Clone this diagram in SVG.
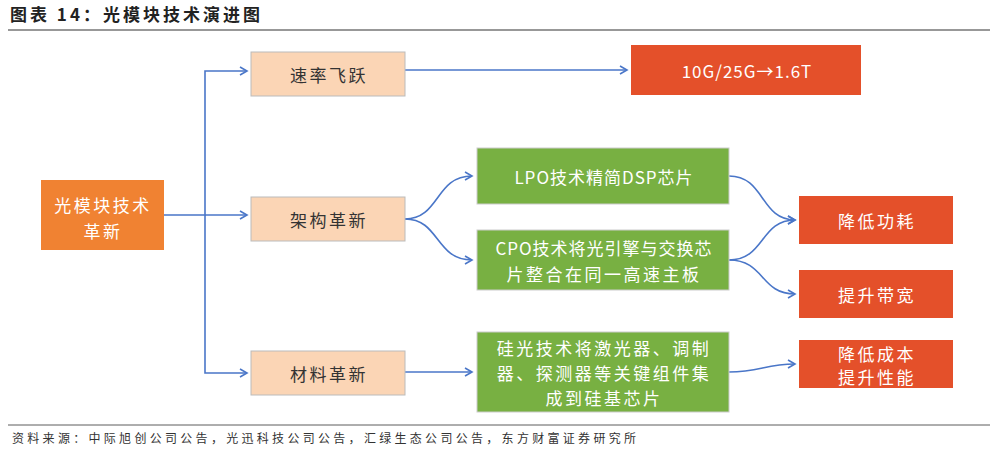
<svg xmlns="http://www.w3.org/2000/svg" width="997" height="454" viewBox="0 0 997 454">
<style>
text{font-family:"Noto Sans CJK SC","Liberation Sans",sans-serif}
.t{font-size:17px;text-anchor:middle;dominant-baseline:central;letter-spacing:2.5px}
.w{fill:#fff}
.d{fill:#333}
.peach{fill:#FBD5B5;stroke:#bbb;stroke-width:1}
.red{fill:#E4502A}
.green{fill:#78B042;stroke:#ccc;stroke-width:1}
.c{fill:none;stroke:#4A76C8;stroke-width:1.6;marker-end:url(#a)}
</style>
<defs><marker id="a" markerWidth="10" markerHeight="10" refX="8" refY="5" orient="auto" markerUnits="userSpaceOnUse"><path d="M1,1 L8,5 L1,9" fill="none" stroke="#4A76C8" stroke-width="1.6"/></marker></defs>
<rect width="997" height="454" fill="#fff"/>
<text x="10" y="21" font-size="17" font-weight="bold" fill="#222" letter-spacing="3">图表 14：光模块技术演进图</text>
<line x1="8" y1="30" x2="990" y2="30" stroke="#333" stroke-width="1.2"/>
<line x1="8" y1="425" x2="990" y2="425" stroke="#333" stroke-width="0.8"/>
<text x="12" y="443" font-size="12" fill="#333" letter-spacing="3.3">资料来源：中际旭创公司公告，光迅科技公司公告，汇绿生态公司公告，东方财富证券研究所</text>
<g id="connectors">
<path class="c" d="M164,215 H205 V71 H247"/>
<path class="c" d="M205,215 H247"/>
<path class="c" d="M205,215 V373 H247"/>
<path class="c" d="M405,70 H627"/>
<path class="c" d="M405,219 C440,219 435,176 472,176"/>
<path class="c" d="M405,219 C440,219 435,260 472,260"/>
<path class="c" d="M729,176 C765,176 760,220 795,220"/>
<path class="c" d="M729,260 C765,260 760,220 795,220"/>
<path class="c" d="M729,260 C765,260 760,294 795,294"/>
<path class="c" d="M405,372 H472"/>
<path class="c" d="M729,372 C760,372 765,364 795,364"/>
</g>
<g id="n0"><rect x="41" y="180" width="123" height="70" fill="#F08232"/><text class="t w" x="103" y="204">光模块技术</text><text class="t w" x="103" y="230">革新</text></g>
<g id="n1"><rect class="peach" x="251" y="52" width="154" height="44"/><text class="t d" x="329" y="74">速率飞跃</text></g>
<g id="n2"><rect class="peach" x="251" y="197" width="154" height="44"/><text class="t d" x="329" y="219">架构革新</text></g>
<g id="n3"><rect class="peach" x="251" y="351" width="154" height="44"/><text class="t d" x="329" y="373">材料革新</text></g>
<g id="n4"><rect class="red" x="631" y="45" width="230" height="50"/><text class="t w" x="747" y="70" style="letter-spacing:1px">10G/25G→1.6T</text></g>
<g id="n5"><rect class="green" x="477" y="148" width="252" height="56"/><text class="t w" x="604" y="176" style="letter-spacing:1px">LPO技术精简DSP芯片</text></g>
<g id="n6"><rect class="green" x="477" y="230" width="252" height="60"/><text class="t w" x="604" y="247" style="letter-spacing:1px">CPO技术将光引擎与交换芯</text><text class="t w" x="604" y="273">片整合在同一高速主板</text></g>
<g id="n7"><rect class="green" x="477" y="332" width="252" height="80"/><text class="t w" x="604" y="347">硅光技术将激光器、调制</text><text class="t w" x="604" y="372">器、探测器等关键组件集</text><text class="t w" x="604" y="397">成到硅基芯片</text></g>
<g id="n8"><rect class="red" x="799" y="196" width="154" height="48"/><text class="t w" x="877" y="220">降低功耗</text></g>
<g id="n9"><rect class="red" x="799" y="270" width="154" height="48"/><text class="t w" x="877" y="294">提升带宽</text></g>
<g id="n10"><rect class="red" x="799" y="340" width="154" height="48"/><text class="t w" x="877" y="353">降低成本</text><text class="t w" x="877" y="376">提升性能</text></g>
</svg>
